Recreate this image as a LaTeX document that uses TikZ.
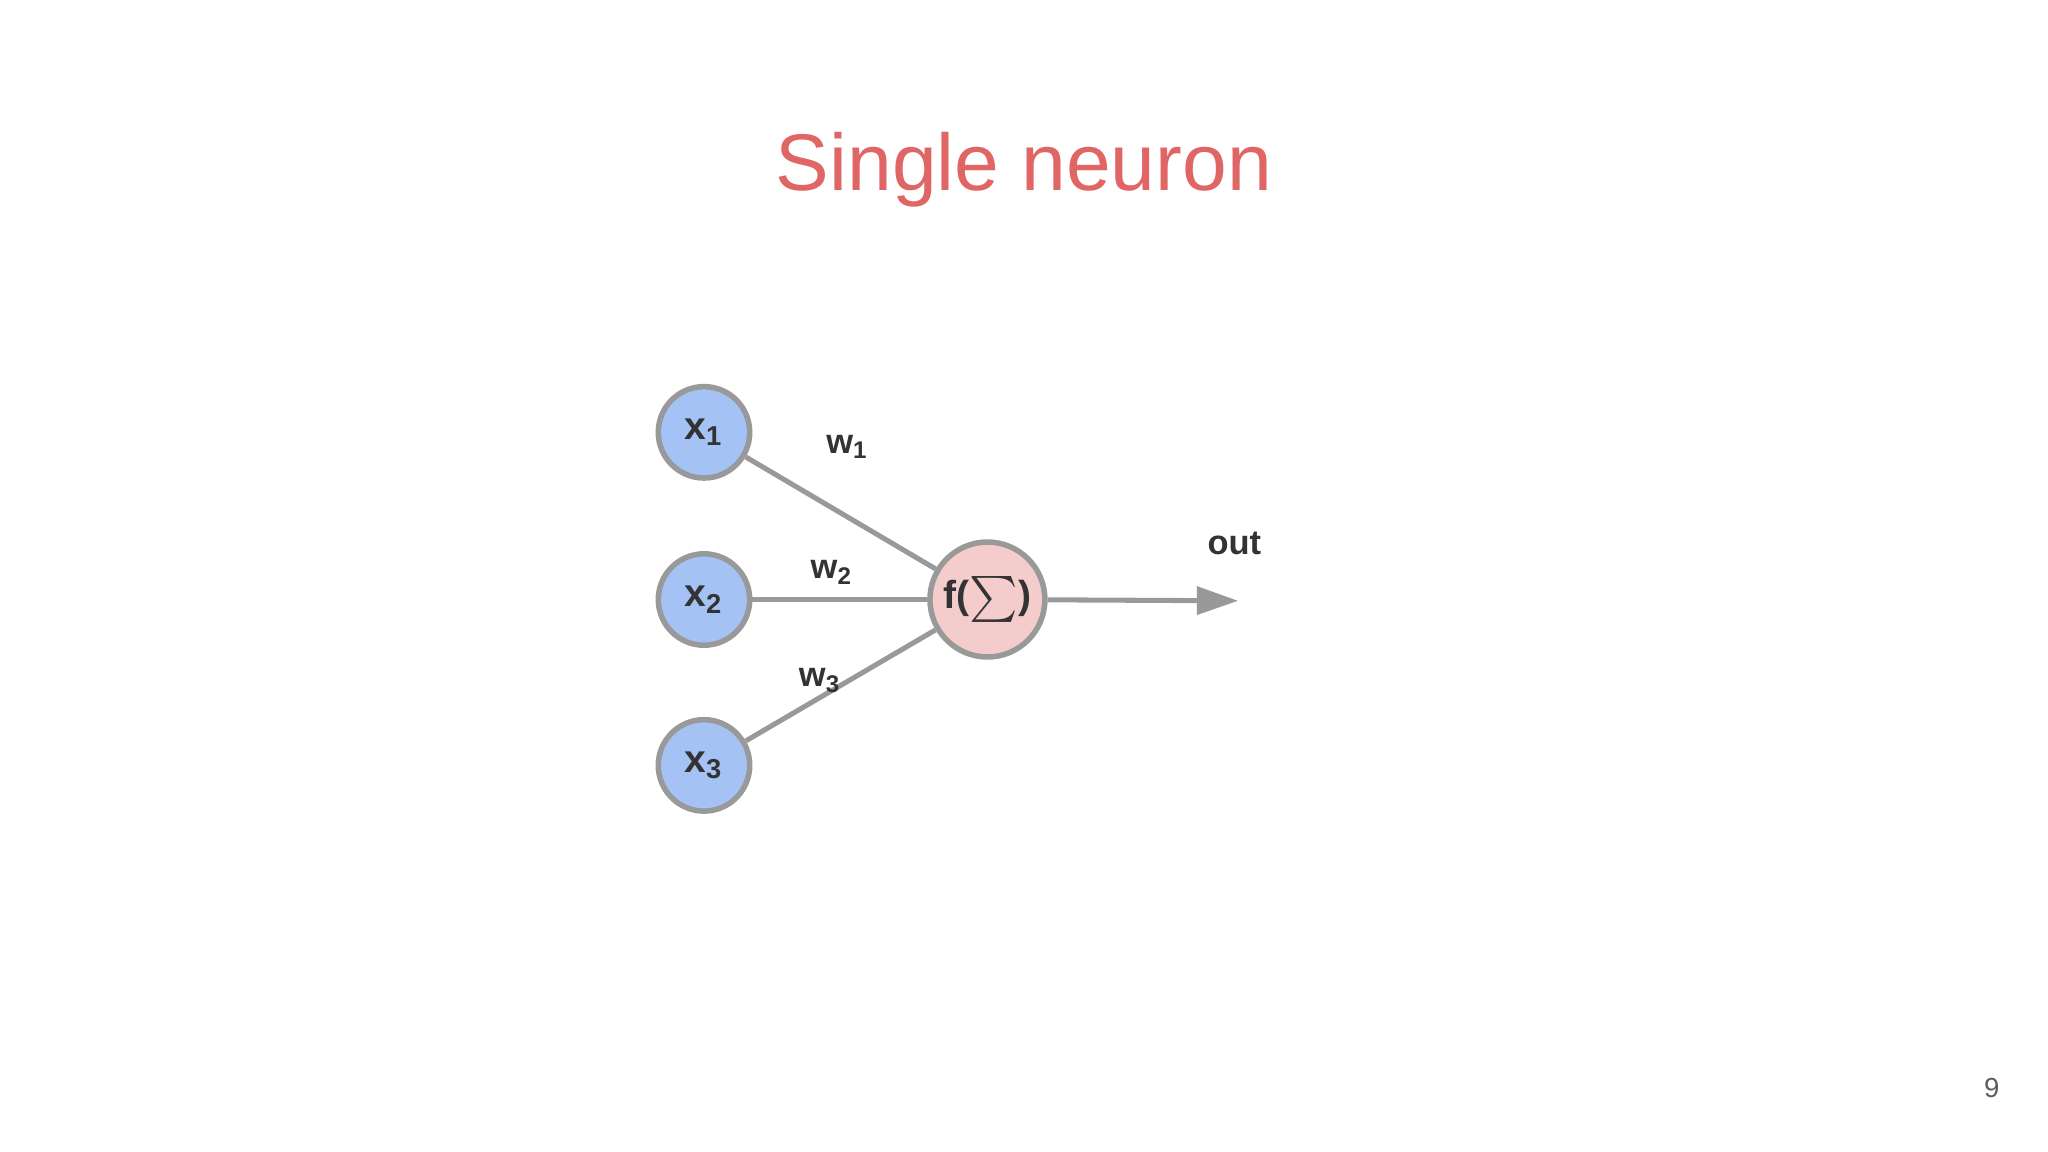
\documentclass[tikz,border=0pt]{standalone}
\usepackage{fontspec}
\setmainfont{Liberation Sans}
\usetikzlibrary{arrows.meta}
\definecolor{ttl}{RGB}{224,102,102}
\definecolor{bl}{RGB}{164,194,244}
\definecolor{pk}{RGB}{244,204,204}
\definecolor{gr}{RGB}{153,153,153}
\definecolor{tx}{RGB}{51,51,51}
\begin{document}
\begin{tikzpicture}[x=0.01cm,y=-0.01cm,
  inp/.style={circle,draw=gr,line width=1.2pt,fill=bl,minimum size=70*0.01cm,inner sep=0pt,text=tx,font=\fontsize{8.5}{10}\selectfont\bfseries},
  lbl/.style={text=tx,font=\fontsize{7.5}{9}\selectfont\bfseries},
  edge/.style={draw=gr,line width=1.1pt}]
\useasboundingbox (0,0) rectangle (1568,882);
\node[text=ttl,font=\fontsize{17.5}{20}\selectfont] (t) at (784,130) {Single neuron};
\node[inp] (x1) at (539,331) {x\textsubscript{1}};
\node[inp] (x2) at (539,459) {x\textsubscript{2}};
\node[inp] (x3) at (539,586) {x\textsubscript{3}};
\node[inp,fill=pk,minimum size=88*0.01cm] (f) at (756,459) {f($\sum$)};
\coordinate (o) at (948,460);
\draw[edge] (x1) -- (f);
\draw[edge] (x2) -- (f);
\draw[edge] (x3) -- (f);
\draw[edge,-{Triangle[length=9pt,width=6pt]}] (f) -- (o);
\node[lbl] (w1) at (649,342) {w\textsubscript{1}};
\node[lbl] (w2) at (637,438) {w\textsubscript{2}};
\node[lbl] (w3) at (628,521) {w\textsubscript{3}};
\node[lbl] (out) at (945,416) {out};
\node[text=tx!80,font=\fontsize{6}{7}\selectfont] (p) at (1525,833) {9};
\end{tikzpicture}
\end{document}
